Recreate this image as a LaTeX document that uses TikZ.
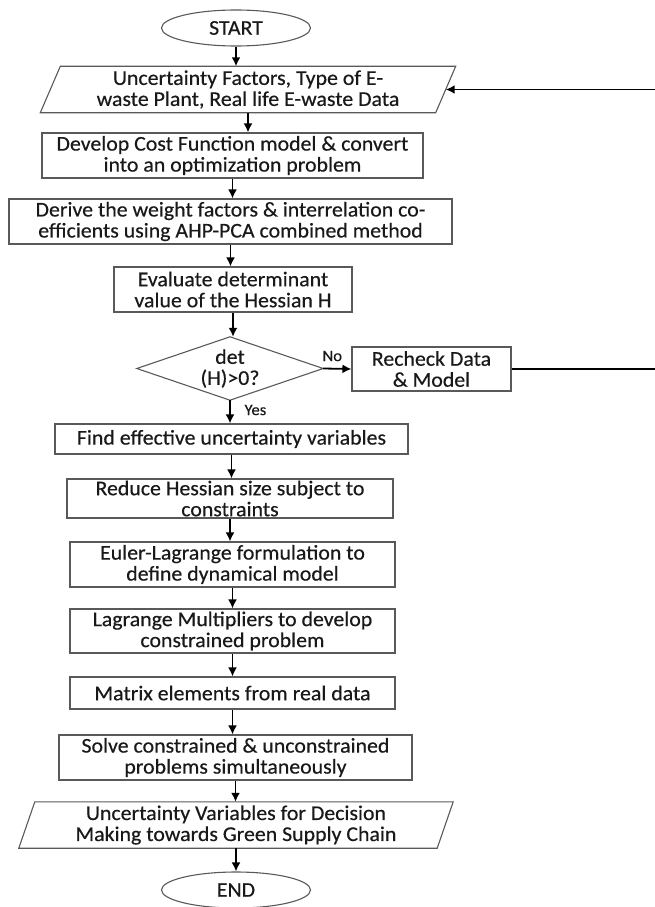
\documentclass[tikz,border=0pt]{standalone}
\usepackage{fontspec}
\setmainfont{Carlito}[FakeStretch=1.04, FakeBold=0.4]
\usetikzlibrary{arrows.meta, shapes.geometric}

\begin{document}
\begin{tikzpicture}[
        x=1pt, y=-1pt,
        every node/.style={font=\fontsize{21}{21}\selectfont, text=black!90},
        proc/.style={rectangle, draw=black!65, line width=1.1pt, align=center, inner sep=0pt},
        term/.style={ellipse, draw=black!65, line width=1.1pt, inner sep=0pt, minimum width=149pt, minimum height=36pt},
        io/.style={rectangle, align=center, inner sep=0pt, minimum height=46pt},
        flow/.style={line width=1.8pt, black, -{Latex[length=9pt, width=9pt]}},
    ]
        \useasboundingbox (0,0) rectangle (655,907);

        \node[term] (start) at (236,28) {START};

        \node[io, minimum width=395pt] (in1) at (248,89.5)
            {Uncertainty Factors, Type of E-\\waste Plant, Real life E-waste Data};
        \draw[black!65, line width=1.1pt] ([xshift=10pt]in1.north west) -- ([xshift=10pt]in1.north east)
            -- ([xshift=-10pt]in1.south east) -- ([xshift=-10pt]in1.south west) -- cycle;

        \node[proc, minimum width=381pt, minimum height=45pt] (cost) at (232.5,155.5)
            {Develop Cost Function model \& convert\\into an optimization problem};
        \node[proc, minimum width=443pt, minimum height=45pt] (ahp) at (230.5,221.5)
            {Derive the weight factors \& interrelation co-\\efficients using AHP-PCA combined method};
        \node[proc, minimum width=238pt, minimum height=45pt] (hess) at (233,289.5)
            {Evaluate determinant\\value of the Hessian H};

        \node[inner sep=0pt, minimum width=186pt, minimum height=63pt, align=center] (det) at (230,368.5)
            {det\\(H)>0?};
        \draw[black!65, line width=1.1pt] (det.north) -- (det.east) -- (det.south) -- (det.west) -- cycle;

        \node[proc, minimum width=159pt, minimum height=44pt] (recheck) at (431.5,369)
            {Recheck Data\\\& Model};

        \node[proc, minimum width=353pt, minimum height=30pt] (eff) at (231.5,439)
            {Find effective uncertainty variables};
        \node[proc, minimum width=326pt, minimum height=39pt] (reduce) at (230,498.5)
            {Reduce Hessian size subject to\\constraints};
        \node[proc, minimum width=325pt, minimum height=45pt] (euler) at (232.5,564.5)
            {Euler-Lagrange formulation to\\define dynamical model};
        \node[proc, minimum width=325pt, minimum height=44pt] (mult) at (232.5,631)
            {Lagrange Multipliers to develop\\constrained problem};
        \node[proc, minimum width=325pt, minimum height=32pt] (matrix) at (232.5,693)
            {Matrix elements from real data};
        \node[proc, minimum width=353pt, minimum height=45pt] (solve) at (235.5,757.5)
            {Solve constrained \& unconstrained\\problems simultaneously};

        \node[io, minimum width=418pt] (out) at (236,825)
            {Uncertainty Variables for Decision\\Making towards Green Supply Chain};
        \draw[black!65, line width=1.1pt] ([xshift=8pt]out.north west) -- ([xshift=8pt]out.north east)
            -- ([xshift=-8pt]out.south east) -- ([xshift=-8pt]out.south west) -- cycle;

        \node[term] (end) at (236,890) {END};

        % main column
        \foreach \a/\b in {start/in1, in1/cost, cost/ahp, ahp/hess, hess/det, det/eff, eff/reduce,
                reduce/euler, euler/mult, mult/matrix, matrix/solve, solve/out, out/end} {
            \draw[flow] (\a.south) -- (\a.south |- \b.north);
        }

        \draw[flow] (det.east) -- (recheck.west);
        \draw[flow] (recheck.east) -- (662,369) |- (in1.east);

        \node[font=\fontsize{16}{16}\selectfont, anchor=west] (no) at (319,356) {No};
        \node[font=\fontsize{16}{16}\selectfont, anchor=west] (yes) at (241,410) {Yes};
    \end{tikzpicture}
\end{document}
